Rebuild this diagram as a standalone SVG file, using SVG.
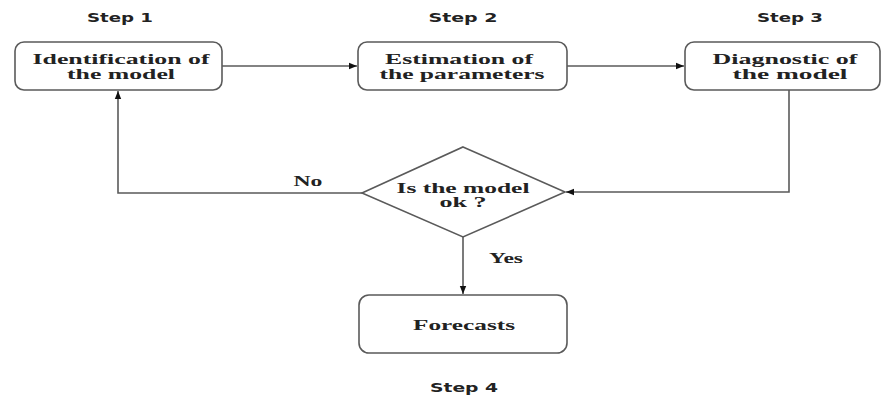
<svg xmlns="http://www.w3.org/2000/svg" width="882" height="397" viewBox="0 0 882 397">
<style>
.box{fill:#fff;stroke:#5a5a5a;stroke-width:1.6}
.t{font-family:"Liberation Serif",serif;font-weight:bold;font-size:14px;fill:#222;text-anchor:middle}
.s{font-family:"DejaVu Sans",sans-serif;font-weight:bold;font-size:12px;fill:#222;text-anchor:middle}
.c{fill:none;stroke:#5a5a5a;stroke-width:1.6}
</style>
<defs>
<marker id="a" viewBox="0 0 10 10" refX="10" refY="5" markerWidth="8" markerHeight="8" markerUnits="userSpaceOnUse" orient="auto">
<path d="M0,1 L10,5 L0,9 Z" fill="#111"/>
</marker>
</defs>
<rect width="882" height="397" fill="#fff"/>
<text class="s" x="120" y="22" textLength="66" lengthAdjust="spacingAndGlyphs">Step 1</text>
<text class="s" x="463" y="22" textLength="69" lengthAdjust="spacingAndGlyphs">Step 2</text>
<text class="s" x="790" y="22" textLength="66" lengthAdjust="spacingAndGlyphs">Step 3</text>
<text class="s" x="464" y="392" textLength="68" lengthAdjust="spacingAndGlyphs">Step 4</text>
<g id="connectors">
<path class="c" d="M222,66 H357" marker-end="url(#a)"/>
<path class="c" d="M567,66 H684" marker-end="url(#a)"/>
<path class="c" d="M789,90 V192 H566" marker-end="url(#a)"/>
<path class="c" d="M362,193 H118 V91" marker-end="url(#a)"/>
<path class="c" d="M463,237 V294" marker-end="url(#a)"/>
<text class="t" x="308" y="186" textLength="29" lengthAdjust="spacingAndGlyphs">No</text>
<text class="t" x="506" y="263" textLength="34" lengthAdjust="spacingAndGlyphs">Yes</text>
</g>
<g id="n1">
<rect class="box" x="15" y="42" width="207" height="48" rx="9"/>
<text class="t" x="121" y="64" textLength="177" lengthAdjust="spacingAndGlyphs">Identification of</text>
<text class="t" x="121" y="79" textLength="108" lengthAdjust="spacingAndGlyphs">the model</text>
</g>
<g id="n2">
<rect class="box" x="358" y="42" width="209" height="48" rx="9"/>
<text class="t" x="459" y="64" textLength="148" lengthAdjust="spacingAndGlyphs">Estimation of</text>
<text class="t" x="462" y="79" textLength="165" lengthAdjust="spacingAndGlyphs">the parameters</text>
</g>
<g id="n3">
<rect class="box" x="685" y="42" width="195" height="48" rx="9"/>
<text class="t" x="785" y="64" textLength="145" lengthAdjust="spacingAndGlyphs">Diagnostic of</text>
<text class="t" x="790" y="79" textLength="115" lengthAdjust="spacingAndGlyphs">the  model</text>
</g>
<g id="decision">
<path class="box" d="M463,147 L565,192 L463,237 L362,193 Z"/>
<text class="t" x="463" y="193" textLength="133" lengthAdjust="spacingAndGlyphs">Is the model</text>
<text class="t" x="463" y="207" textLength="47" lengthAdjust="spacingAndGlyphs">ok ?</text>
</g>
<g id="n4">
<rect class="box" x="359" y="295" width="208" height="58" rx="10"/>
<text class="t" x="464" y="330" textLength="102" lengthAdjust="spacingAndGlyphs">Forecasts</text>
</g>
</svg>
